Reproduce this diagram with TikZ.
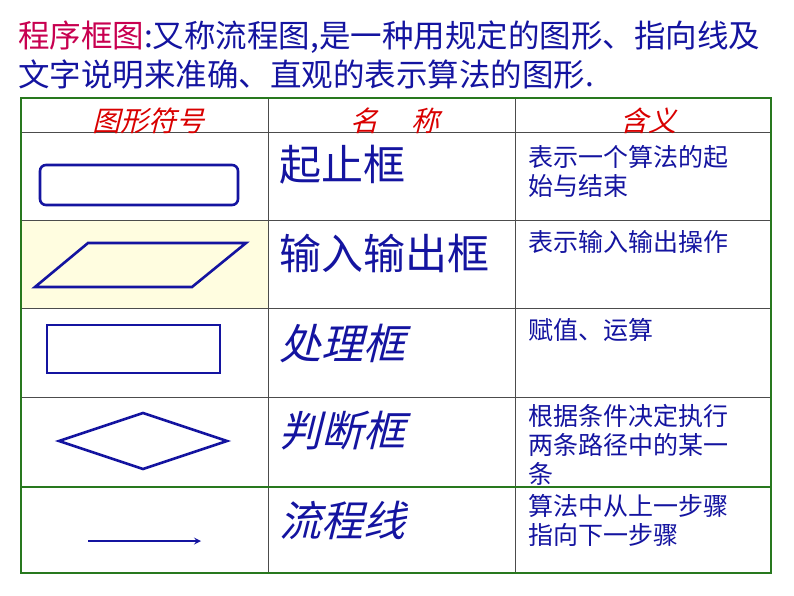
\documentclass[tikz,border=0pt]{standalone}
\usepackage{fontspec}
\newfontfamily\cjk{Noto Sans CJK SC}
\newfontfamily\cjki[FakeSlant=0.25]{Noto Sans CJK SC}
\begin{document}
\begin{tikzpicture}[x=1pt,y=-1pt,
  shp/.style={draw=myblue,line width=2.6pt},
  hdr/.style={text=red!85!black,font=\cjki\fontsize{28}{30}\selectfont},
  nm/.style={text=myblue,anchor=west,font=\cjk\fontsize{42}{44}\selectfont},
  nmi/.style={text=myblue,anchor=west,font=\cjki\fontsize{42}{44}\selectfont},
  mn/.style={text=myblue,anchor=north west,align=left,inner sep=0pt,font=\cjk\fontsize{25}{29}\selectfont}]
\definecolor{myblue}{RGB}{20,20,160}
\definecolor{tgreen}{RGB}{40,120,30}
\definecolor{title}{RGB}{200,0,80}
\useasboundingbox (0,0) rectangle (794,596);
\fill[white] (0,0) rectangle (794,596);
\fill[yellow!12] (21,220) rectangle (268,308);
% table lines
\draw[gray!60!black,line width=1pt] (268,98) -- (268,573) (515,98) -- (515,573)
  (21,133) -- (771,133) (21,220) -- (771,220) (21,308) -- (771,308) (21,397) -- (771,397);
\draw[tgreen,line width=1.8pt] (21,487) -- (771,487);
\draw[tgreen,line width=1.8pt] (21,98) rectangle (771,573);
% title
\node[anchor=west,inner sep=0pt,font=\cjk\fontsize{31.5}{34}\selectfont] (t1) at (18,37) {\textcolor{title}{程序框图}\textcolor{myblue}{:又称流程图,是一种用规定的图形、指向线及}};
\node[anchor=west,inner sep=0pt,font=\cjk\fontsize{31.5}{34}\selectfont,text=myblue] (t2) at (18,75) {文字说明来准确、直观的表示算法的图形.};
% headers
\node[hdr] (h1) at (148,121) {图形符号};
\node[hdr] (h2) at (395,121) {名\hspace{1.2em}称};
\node[hdr] (h3) at (648,121) {含义};
% names
\node[nm] (n1) at (276,165) {起止框};
\node[nm] (n2) at (276,253) {输入输出框};
\node[nmi] (n3) at (276,344) {处理框};
\node[nmi] (n4) at (276,431) {判断框};
\node[nmi] (n5) at (276,520) {流程线};
% meanings
\node[mn] (m1) at (528,145) {表示一个算法的起\\始与结束};
\node[mn] (m2) at (528,230) {表示输入输出操作};
\node[mn] (m3) at (528,318) {赋值、运算};
\node[mn] (m4) at (528,404) {根据条件决定执行\\两条路径中的某一\\条};
\node[mn] (m5) at (528,494) {算法中从上一步骤\\指向下一步骤};
% shapes
\draw[shp,rounded corners=6pt] (40,165) rectangle (238,205);
\draw[shp,line join=miter] (88,243) -- (246,243) -- (192,287) -- (35,287) -- cycle;
\draw[shp] (47,325) rectangle (220,373);
\draw[shp,line join=miter] (59,441) -- (143,413) -- (227,441) -- (143,469) -- cycle;
\coordinate (a1) at (88,541);
\coordinate (a2) at (201,541);
\draw[myblue,line width=2pt,-stealth] (a1) -- (a2);
\end{tikzpicture}
\end{document}
